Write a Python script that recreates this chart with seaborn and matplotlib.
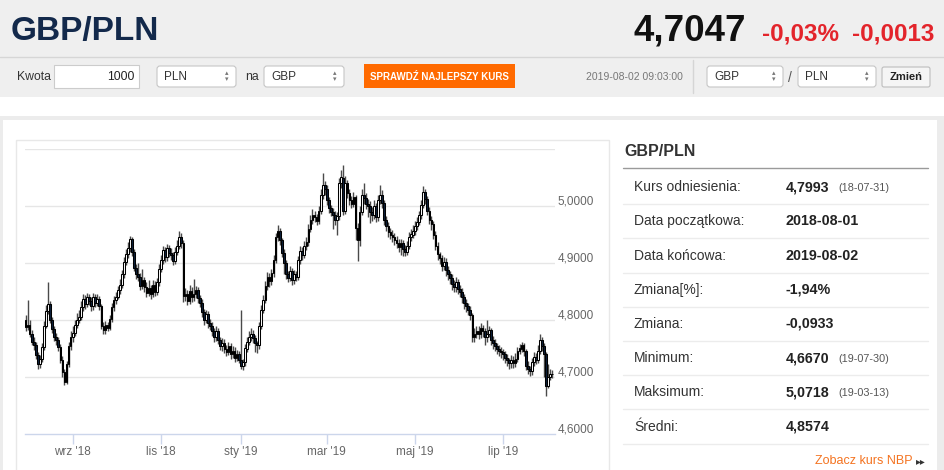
import matplotlib
matplotlib.use("Agg")
import matplotlib.pyplot as plt
import matplotlib.transforms as mtransforms
from matplotlib.patches import Rectangle, FancyBboxPatch
import numpy as np
import pandas as pd
import seaborn as sns

# ---- data -------------------------------------------------------------
start_day, end_day = "2018-08-01", "2019-08-02"
skip_days = ["2018-12-24", "2018-12-25", "2018-12-26", "2018-12-31", "2019-01-01"]
ref_close = 4.7993  # kurs odniesienia (18-07-31)

closes = [
    # 2018-08
    4.787, 4.792, 4.776, 4.762, 4.757, 4.738, 4.722, 4.731, 4.752, 4.790, 4.815, 4.828,
    4.800, 4.785, 4.770, 4.765, 4.752, 4.730, 4.708, 4.692, 4.722, 4.755, 4.770,
    # 2018-09
    4.778, 4.792, 4.800, 4.806, 4.822, 4.836, 4.828, 4.840, 4.834, 4.824, 4.840, 4.830,
    4.836, 4.824, 4.790, 4.782, 4.791, 4.786, 4.801, 4.822,
    # 2018-10
    4.835, 4.841, 4.852, 4.862, 4.880, 4.902, 4.915, 4.926, 4.942, 4.920, 4.892, 4.880,
    4.876, 4.860, 4.871, 4.858, 4.848, 4.856, 4.845, 4.862, 4.850, 4.866, 4.890,
    # 2018-11
    4.905, 4.922, 4.910, 4.926, 4.918, 4.914, 4.904, 4.920, 4.930, 4.946, 4.935, 4.842,
    4.846, 4.834, 4.851, 4.840, 4.846, 4.852, 4.838, 4.830, 4.814, 4.800,
    # 2018-12
    4.810, 4.795, 4.790, 4.780, 4.770, 4.781, 4.765, 4.755, 4.760, 4.750, 4.744, 4.755,
    4.740, 4.746, 4.734, 4.740, 4.730,
    # 2019-01
    4.720, 4.726, 4.750, 4.762, 4.771, 4.776, 4.769, 4.760, 4.756, 4.790, 4.818, 4.835,
    4.860, 4.876, 4.868, 4.882, 4.906, 4.945, 4.956, 4.940, 4.918, 4.900,
    # 2019-02
    4.880, 4.874, 4.886, 4.870, 4.880, 4.875, 4.905, 4.921, 4.914, 4.930, 4.936, 4.960,
    4.976, 4.985, 4.980, 4.974, 4.991, 5.020, 5.036, 5.030,
    # 2019-03
    5.010, 4.996, 4.990, 4.985, 4.975, 4.982, 5.040, 5.050, 4.992, 5.040, 5.022, 5.010,
    5.004, 5.015, 4.962, 4.940, 4.990, 5.020, 5.014, 5.004, 5.000,
    # 2019-04
    4.990, 4.985, 5.000, 4.980, 5.010, 5.020, 5.005, 4.975, 4.965, 4.955, 4.950, 4.945,
    4.940, 4.935, 4.928, 4.935, 4.925, 4.920, 4.930, 4.945, 4.950, 4.956,
    # 2019-05
    4.965, 4.972, 4.985, 5.002, 5.025, 5.012, 4.992, 4.976, 4.968, 4.950, 4.930, 4.915,
    4.908, 4.895, 4.902, 4.888, 4.880, 4.874, 4.864, 4.858, 4.866, 4.855, 4.850,
    # 2019-06
    4.840, 4.830, 4.824, 4.818, 4.808, 4.770, 4.776, 4.781, 4.775, 4.786, 4.780, 4.770,
    4.776, 4.782, 4.765, 4.760, 4.755, 4.750, 4.745, 4.744,
    # 2019-07
    4.740, 4.734, 4.730, 4.724, 4.730, 4.724, 4.732, 4.745, 4.750, 4.756, 4.745, 4.720,
    4.714, 4.710, 4.726, 4.735, 4.730, 4.746, 4.765, 4.755, 4.740, 4.685, 4.700,
    # 2019-08
    4.706, 4.7047,
]

highs = [
    4.808, 4.835, 4.800, 4.782, 4.770, 4.762, 4.744, 4.738, 4.760, 4.798, 4.826, 4.866,
    4.834, 4.806, 4.790, 4.778, 4.770, 4.758, 4.736, 4.714, 4.728, 4.762, 4.780,
    4.790, 4.800, 4.812, 4.818, 4.834, 4.846, 4.844, 4.848, 4.846, 4.840, 4.848, 4.846,
    4.845, 4.842, 4.828, 4.796, 4.798, 4.797, 4.808, 4.830,
    4.842, 4.850, 4.860, 4.872, 4.888, 4.910, 4.924, 4.936, 4.948, 4.946, 4.924, 4.898,
    4.900, 4.882, 4.890, 4.876, 4.866, 4.870, 4.862, 4.870, 4.868, 4.874, 4.898,
    4.914, 4.930, 4.928, 4.934, 4.932, 4.926, 4.920, 4.928, 4.940, 4.957, 4.952, 4.940,
    4.856, 4.852, 4.862, 4.858, 4.872, 4.860, 4.858, 4.844, 4.836, 4.820,
    4.818, 4.816, 4.802, 4.796, 4.786, 4.790, 4.786, 4.770, 4.768, 4.766, 4.756, 4.762,
    4.760, 4.754, 4.752, 4.748, 4.746,
    4.818, 4.732, 4.758, 4.770, 4.780, 4.786, 4.782, 4.774, 4.764, 4.796, 4.826, 4.844,
    4.868, 4.884, 4.882, 4.890, 4.914, 4.952, 4.966, 4.962, 4.944, 4.924,
    4.906, 4.886, 4.894, 4.892, 4.888, 4.886, 4.912, 4.930, 4.928, 4.938, 4.946, 4.968,
    4.984, 4.994, 4.992, 4.986, 5.000, 5.030, 5.058, 5.044,
    5.036, 5.016, 5.002, 4.996, 4.992, 4.990, 5.050, 5.064, 5.0718, 5.052, 5.046, 5.030,
    5.018, 5.024, 5.020, 4.970, 5.000, 5.030, 5.040, 5.022, 5.012,
    5.008, 4.998, 5.010, 5.006, 5.020, 5.036, 5.028, 5.010, 4.982, 4.972, 4.962, 4.958,
    4.952, 4.948, 4.942, 4.942, 4.940, 4.932, 4.938, 4.955, 4.960, 4.966,
    4.974, 4.980, 4.992, 5.010, 5.035, 5.030, 5.018, 4.998, 4.982, 4.974, 4.956, 4.936,
    4.920, 4.914, 4.910, 4.908, 4.894, 4.886, 4.880, 4.870, 4.876, 4.872, 4.862,
    4.856, 4.846, 4.836, 4.830, 4.824, 4.812, 4.786, 4.790, 4.790, 4.794, 4.792, 4.786,
    4.800, 4.790, 4.786, 4.772, 4.766, 4.760, 4.756, 4.752,
    4.750, 4.746, 4.740, 4.734, 4.738, 4.736, 4.742, 4.752, 4.758, 4.762, 4.760, 4.750,
    4.728, 4.720, 4.734, 4.744, 4.742, 4.756, 4.775, 4.770, 4.760, 4.744, 4.722,
    4.714, 4.712,
]

lows = [
    4.780, 4.782, 4.770, 4.756, 4.748, 4.732, 4.714, 4.716, 4.726, 4.748, 4.786, 4.810,
    4.794, 4.778, 4.764, 4.756, 4.745, 4.724, 4.700, 4.686, 4.688, 4.718, 4.748,
    4.762, 4.772, 4.786, 4.794, 4.800, 4.816, 4.820, 4.822, 4.826, 4.816, 4.818, 4.822,
    4.824, 4.818, 4.784, 4.776, 4.776, 4.780, 4.782, 4.796,
    4.816, 4.828, 4.836, 4.846, 4.856, 4.874, 4.896, 4.908, 4.920, 4.912, 4.886, 4.872,
    4.868, 4.852, 4.854, 4.850, 4.840, 4.842, 4.836, 4.840, 4.842, 4.844, 4.860,
    4.884, 4.898, 4.902, 4.904, 4.910, 4.906, 4.896, 4.898, 4.914, 4.924, 4.926, 4.832,
    4.834, 4.826, 4.828, 4.832, 4.834, 4.838, 4.830, 4.822, 4.806, 4.792,
    4.794, 4.786, 4.782, 4.772, 4.762, 4.764, 4.758, 4.748, 4.746, 4.742, 4.736, 4.738,
    4.732, 4.734, 4.726, 4.728, 4.724,
    4.714, 4.712, 4.720, 4.744, 4.756, 4.764, 4.760, 4.744, 4.742, 4.750, 4.784, 4.812,
    4.830, 4.852, 4.858, 4.862, 4.876, 4.900, 4.938, 4.932, 4.910, 4.880,
    4.872, 4.866, 4.868, 4.862, 4.864, 4.868, 4.870, 4.898, 4.906, 4.908, 4.922, 4.930,
    4.954, 4.968, 4.972, 4.966, 4.968, 4.986, 5.012, 5.020,
    5.002, 4.988, 4.982, 4.960, 4.966, 4.950, 4.976, 5.032, 4.984, 4.986, 5.014, 5.002,
    4.996, 4.998, 4.940, 4.903, 4.930, 4.984, 5.004, 4.994, 4.980,
    4.970, 4.974, 4.978, 4.972, 4.974, 5.004, 4.996, 4.966, 4.956, 4.946, 4.942, 4.936,
    4.932, 4.926, 4.920, 4.914, 4.912, 4.912, 4.914, 4.924, 4.938, 4.944,
    4.950, 4.958, 4.966, 4.978, 4.996, 5.004, 4.984, 4.968, 4.958, 4.942, 4.922, 4.906,
    4.898, 4.886, 4.888, 4.878, 4.870, 4.864, 4.852, 4.850, 4.850, 4.846, 4.840,
    4.830, 4.820, 4.814, 4.808, 4.800, 4.762, 4.762, 4.768, 4.766, 4.768, 4.770, 4.756,
    4.762, 4.770, 4.756, 4.750, 4.746, 4.740, 4.736, 4.734,
    4.730, 4.724, 4.720, 4.714, 4.716, 4.716, 4.718, 4.726, 4.740, 4.744, 4.736, 4.712,
    4.706, 4.702, 4.704, 4.720, 4.722, 4.724, 4.740, 4.746, 4.700, 4.667, 4.680,
    4.694, 4.698,
]

month_labels = {9: "wrz", 11: "lis", 1: "sty", 3: "mar", 5: "maj", 7: "lip"}
y_ticks = [4.6, 4.7, 4.8, 4.9, 5.0, 5.1]

stat_labels = ["Kurs odniesienia:", "Data początkowa:", "Data końcowa:", "Zmiana[%]:",
               "Zmiana:", "Minimum:", "Maksimum:", "Średni:"]
stat_values = ["4,7993", "2018-08-01", "2019-08-02", "-1,94%", "-0,0933",
               "4,6670", "5,0718", "4,8574"]
stat_dates = ["(18-07-31)", "", "", "", "", "(19-07-30)", "(19-03-13)", ""]

# ---- frame ------------------------------------------------------------
dates = pd.bdate_range(start_day, end_day)
dates = dates[~dates.isin(pd.to_datetime(skip_days))]
n = min(len(dates), len(closes), len(highs), len(lows))
df = pd.DataFrame({"date": dates[:n], "close": closes[:n], "high": highs[:n], "low": lows[:n]})
df["open"] = df["close"].shift(1).fillna(ref_close)
df["idx"] = np.arange(n)
df["body"] = df["close"] - df["open"]

sns.set_theme(style="white")
plt.rcParams["font.family"] = ["Liberation Sans", "DejaVu Sans"]

W, H = 945, 470
fig = plt.figure(figsize=(W / 100, H / 100), dpi=100)
fig.patch.set_facecolor("white")

# page background in pixel coordinates
bg = fig.add_axes([0, 0, 1, 1])
bg.set_xlim(0, W)
bg.set_ylim(H, 0)
bg.axis("off")

bg.add_patch(Rectangle((0, 0), W, 97, fc="#efefef", ec="none"))
bg.plot([0, W], [56.5, 56.5], color="#d6d6d6", lw=1)
bg.add_patch(Rectangle((0, 116), W, 4, fc="#ececec", ec="none"))
bg.add_patch(Rectangle((0, 120), 3, H, fc="#ececec", ec="none"))
bg.add_patch(Rectangle((937, 120), 8, H, fc="#ececec", ec="none"))
bg.add_patch(Rectangle((15.5, 139.5), 593, 400, fc="none", ec="#e8e8e8", lw=1))

# header
bg.text(11, 40, "GBP/PLN", fontsize=24, fontweight="bold", color="#13294b", va="baseline")
bg.text(634, 40, "4,7047", fontsize=26.5, fontweight="bold", color="#111111", va="baseline")
bg.text(762, 40, "-0,03%", fontsize=17.5, fontweight="bold", color="#e3242b", va="baseline")
bg.text(852, 40, "-0,0013", fontsize=17.5, fontweight="bold", color="#e3242b", va="baseline")


def select_box(x0, x1, label):
    bg.add_patch(FancyBboxPatch((x0, 66), x1 - x0, 21, boxstyle="round,pad=0,rounding_size=3",
                                fc="white", ec="#c6c6c6", lw=0.8))
    bg.text(x0 + 7, 76.5, label, fontsize=8.5, color="#333333", va="center")
    bg.text(x1 - 9, 73.5, "\u25b4", fontsize=5, color="#777777", va="center", ha="center",
            family=["DejaVu Sans"])
    bg.text(x1 - 9, 79.5, "\u25be", fontsize=5, color="#777777", va="center", ha="center",
            family=["DejaVu Sans"])


bg.text(17, 76.5, "Kwota", fontsize=8.8, color="#333333", va="center")
bg.add_patch(Rectangle((54, 65), 85, 23, fc="white", ec="#cccccc", lw=0.8))
bg.text(134, 76.5, "1000", fontsize=8.8, color="#222222", va="center", ha="right")
select_box(157, 236, "PLN")
bg.text(245, 76.5, "na", fontsize=8.8, color="#333333", va="center")
select_box(264, 344, "GBP")
bg.add_patch(Rectangle((364, 64), 151, 24, fc="#ff6a00", ec="none"))
bg.text(439.5, 76.5, "SPRAWDŹ NAJLEPSZY KURS", fontsize=7, fontweight="bold", color="white",
        va="center", ha="center")
bg.text(586, 76.5, "2019-08-02 09:03:00", fontsize=7.5, color="#777777", va="center")
bg.plot([693, 693], [60, 93], color="#d5d5d5", lw=1)
select_box(707, 783, "GBP")
bg.text(790, 78, "/", fontsize=10, color="#555555", va="center", ha="center")
select_box(798, 876, "PLN")
bg.add_patch(FancyBboxPatch((882, 67), 48, 20, boxstyle="round,pad=0,rounding_size=2",
                            fc="#f5f5f5", ec="#bdbdbd", lw=0.8))
bg.text(906, 77, "Zmień", fontsize=8, fontweight="bold", color="#222222", va="center", ha="center")

# right stats panel
bg.text(624, 152, "GBP/PLN", fontsize=11.5, fontweight="bold", color="#333333", va="center")
bg.plot([623, 928], [168, 168], color="#9a9a9a", lw=1)
row_top = 170
row_h = 34.2
for i, (lab, val, dt) in enumerate(zip(stat_labels, stat_values, stat_dates)):
    yc = row_top + row_h * i + row_h / 2
    bg.text(634, yc, lab, fontsize=10, color="#333333", va="center")
    bg.text(786, yc, val, fontsize=10.3, fontweight="bold", color="#222222", va="center")
    if dt:
        bg.text(838, yc + 0.5, dt, fontsize=7.8, color="#555555", va="center")
    bg.plot([623, 928], [row_top + row_h * (i + 1)] * 2, color="#ececec", lw=1)
bg.text(913, 460.5, "Zobacz kurs NBP", fontsize=9, color="#f47320", va="center", ha="right")
bg.text(916, 461, "\u25b8\u25b8", fontsize=7, color="#333333", va="center",
        family=["DejaVu Sans"])

# ---- candlestick chart ----------------------------------------------------
px_l, px_r, px_t, px_b = 25, 555, 149, 434
ax = fig.add_axes([px_l / W, (H - px_b) / H, (px_r - px_l) / W, (px_b - px_t) / H])
ax.set_facecolor("none")

ax.vlines(df["idx"], df["low"], df["high"], color="#4a4a4a", lw=1.0, zorder=2)
up = df[df["body"] >= 0]
down = df[df["body"] < 0]
ax.bar(up["idx"], up["body"], bottom=up["open"], width=0.82, color="white",
       edgecolor="#000000", linewidth=0.75, zorder=3)
ax.bar(down["idx"], down["body"], bottom=down["open"], width=0.82, color="#0c1f3a",
       edgecolor="#000000", linewidth=0.75, zorder=3)

ax.set_xlim(-0.25, n + 0.3)
ax.set_ylim(y_ticks[0], y_ticks[-1])

# y axis on the right
ax.yaxis.tick_right()
ax.set_yticks(y_ticks)
ax.set_yticklabels([f"{v:.4f}".replace(".", ",") if v < 5.05 else "" for v in y_ticks])
ax.tick_params(axis="y", length=0, pad=2, labelsize=8.5, labelcolor="#666666")
shift = mtransforms.ScaledTranslation(0, 6 / 100, fig.dpi_scale_trans)
for lbl in ax.get_yticklabels():
    lbl.set_transform(lbl.get_transform() + shift)
for v in y_ticks[1:]:
    ax.axhline(v, color="#e6e6e6", lw=1, zorder=0)

# x axis: first trading day of the labelled months
month_start = df.groupby([df["date"].dt.year, df["date"].dt.month])["idx"].min()
xt, xl = [], []
for (yr, mo), pos in month_start.items():
    if mo in month_labels:
        xt.append(pos)
        xl.append(f"{month_labels[mo]} '{str(yr)[2:]}")
ax.set_xticks(xt)
ax.set_xticklabels(xl)
ax.tick_params(axis="x", direction="out", length=7, width=1, color="#ccd6eb", pad=1.5,
               labelsize=8.5, labelcolor="#666666", bottom=True)

sns.despine(ax=ax, left=True, right=True, top=True)
ax.spines["bottom"].set_color("#ccd6eb")
ax.spines["bottom"].set_linewidth(1)
ax.grid(False)

fig.savefig("out.png", dpi=100)
